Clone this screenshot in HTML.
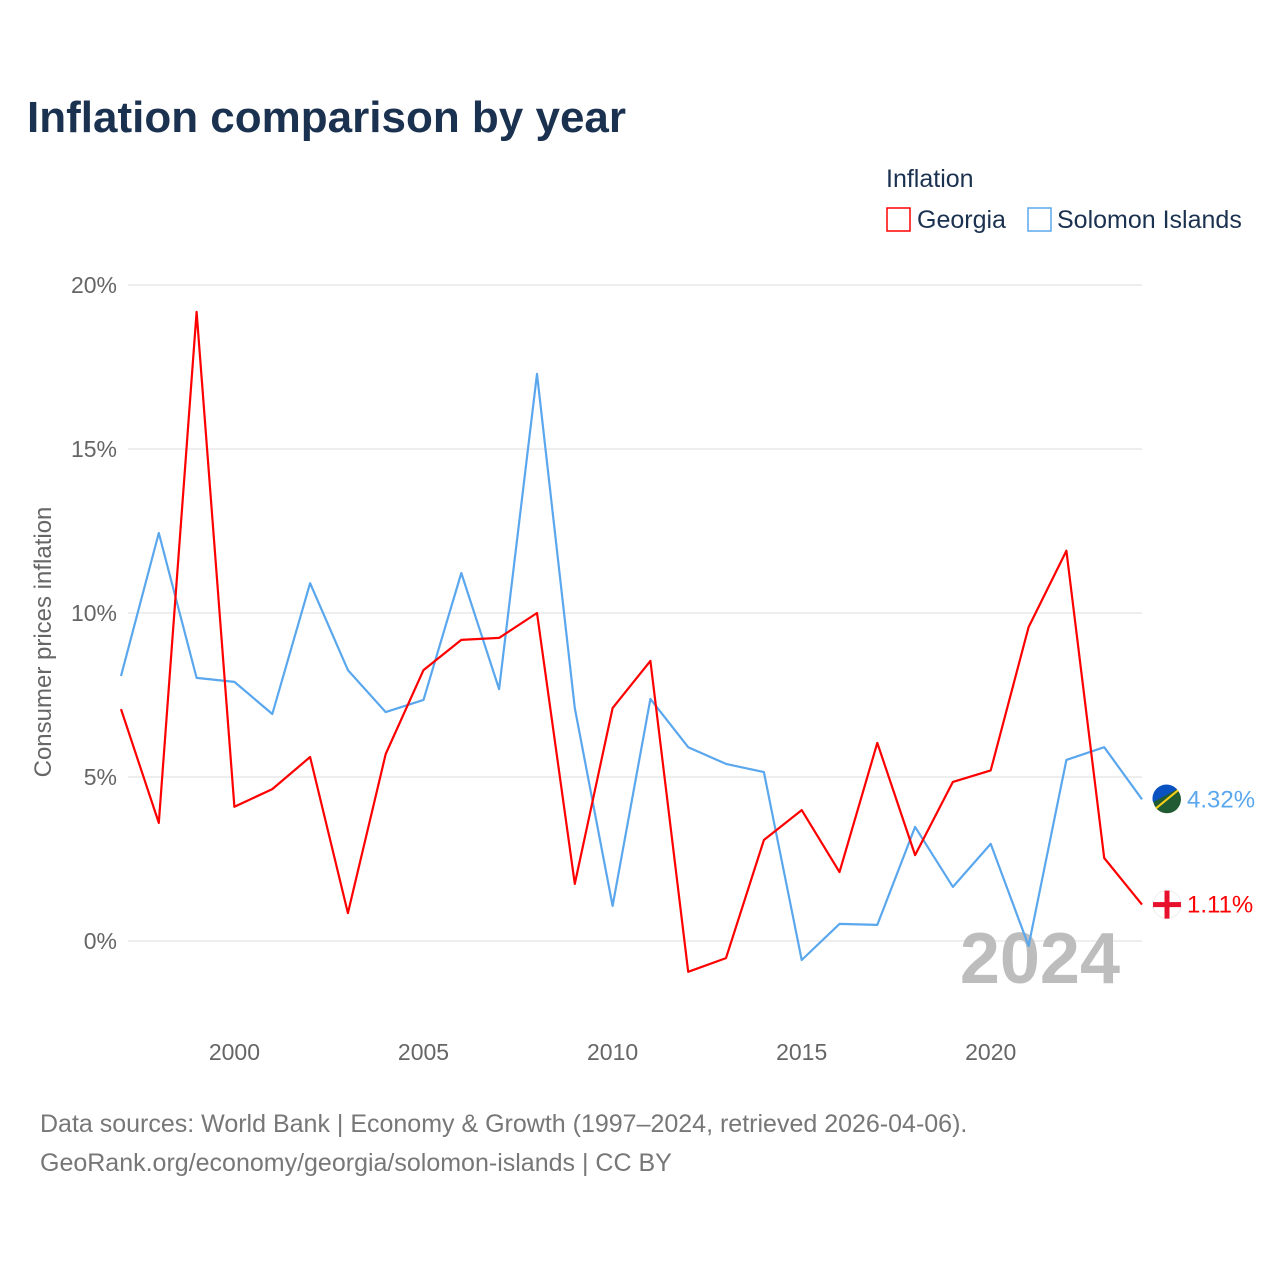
<!DOCTYPE html>
<html><head><meta charset="utf-8"><style>
body{margin:0;background:#fff;font-family:"Liberation Sans",sans-serif}
</style></head><body>
<svg width="1280" height="1280" viewBox="0 0 1280 1280" xmlns="http://www.w3.org/2000/svg">
<rect width="1280" height="1280" fill="#fff"/>
<text x="27" y="132" font-size="44" font-weight="bold" fill="#1b3150">Inflation comparison by year</text>
<g>
<text x="886" y="187" font-size="25" fill="#1b3150">Inflation</text>
<rect x="887" y="208" width="23" height="23" fill="none" stroke="#f00" stroke-width="1.5"/>
<text x="917" y="228" font-size="25" fill="#1b3150">Georgia</text>
<rect x="1028" y="208" width="23" height="23" fill="none" stroke="#5aa7ee" stroke-width="1.5"/>
<text x="1057" y="228" font-size="25" fill="#1b3150">Solomon Islands</text>
</g>
<g id="grid"></g>
<g id="yt"></g>
<g id="xt"></g>
<text transform="translate(51,642) rotate(-90)" text-anchor="middle" font-size="24" fill="#666">Consumer prices inflation</text>
<text x="1120" y="983" text-anchor="end" font-size="72" font-weight="bold" fill="#bdbdbd">2024</text>
<g id="series"></g>
<text x="40" y="1132" font-size="25" fill="#777">Data sources: World Bank | Economy &amp; Growth (1997–2024, retrieved 2026-04-06).</text>
<text x="40" y="1171" font-size="25" fill="#777">GeoRank.org/economy/georgia/solomon-islands | CC BY</text>
</svg>
<script>
const years=[1997,1998,1999,2000,2001,2002,2003,2004,2005,2006,2007,2008,2009,2010,2011,2012,2013,2014,2015,2016,2017,2018,2019,2020,2021,2022,2023,2024];
const georgia=[7.07,3.6,19.18,4.09,4.63,5.61,0.85,5.7,8.26,9.18,9.24,10.0,1.74,7.1,8.54,-0.94,-0.52,3.08,3.99,2.1,6.04,2.62,4.85,5.2,9.57,11.9,2.53,1.11];
const solomon=[8.08,12.44,8.02,7.9,6.92,10.91,8.26,6.98,7.35,11.22,7.68,17.29,7.1,1.07,7.38,5.91,5.4,5.15,-0.58,0.52,0.49,3.48,1.65,2.96,-0.15,5.52,5.91,4.32];
const yTicks=[0,5,10,15,20];
const xTicks=[2000,2005,2010,2015,2020];
const NS="http://www.w3.org/2000/svg";
const X=y=>121+(y-1997)*(1142-121)/27;
const Y=v=>941-v*(941-285)/20;
function mk(t,a,p){const e=document.createElementNS(NS,t);for(const k in a)e.setAttribute(k,a[k]);p.appendChild(e);return e;}
const grid=document.getElementById('grid'),yt=document.getElementById('yt'),xt=document.getElementById('xt'),ser=document.getElementById('series');
yTicks.forEach(v=>{
 const l=mk('line',{x1:128,x2:1142,y1:Y(v),y2:Y(v),stroke:'#e8e8e8','stroke-width':1.5},grid);
 
 
 const t=mk('text',{x:117,y:Y(v)+8,'text-anchor':'end','font-size':23,fill:'#666'},yt);
 t.textContent=v+'%';
 
 
});
xTicks.forEach(y=>{
 const t=mk('text',{x:X(y),y:1060,'text-anchor':'middle','font-size':23,fill:'#666'},xt);
 t.textContent=y;
 
 
});
function line(data,color,name){
 const d=data.map((v,i)=>(i?'L':'M')+X(years[i]).toFixed(1)+','+Y(v).toFixed(1)).join('');
 const p=mk('path',{d:d,fill:'none',stroke:color,'stroke-width':2.2,'stroke-linejoin':'round'},ser);
 
 
 const last=data[data.length-1],ly=Y(last);
 const g=mk('g',{},ser);
 
 
 const t=mk('text',{x:1187,y:ly+8,'font-size':24,fill:color},ser);
 t.textContent=last.toFixed(2)+'%';
 
 
 return [g,ly];
}
let [gs,ys]=line(solomon,'#5aa7ee','solomon');
let [gg,yg]=line(georgia,'#f00','georgia');
mk('circle',{cx:1167,cy:ys,r:14,fill:'#215b33'},gs);
mk('path',{d:`M1153,${ys+3} A14,14 0 0 1 1177,${ys-10} Z`,fill:'#0a51c2'},gs);
mk('line',{x1:1156,y1:ys+9,x2:1178,y2:ys-9,stroke:'#fcd116','stroke-width':2},gs);
mk('circle',{cx:1167,cy:yg,r:14,fill:'#fff',stroke:'#eee'},gg);
mk('rect',{x:1153,y:yg-2.5,width:28,height:5,fill:'#e8112d'},gg);
mk('rect',{x:1164.5,y:yg-14,width:5,height:28,fill:'#e8112d'},gg);
</script>
</body></html>
